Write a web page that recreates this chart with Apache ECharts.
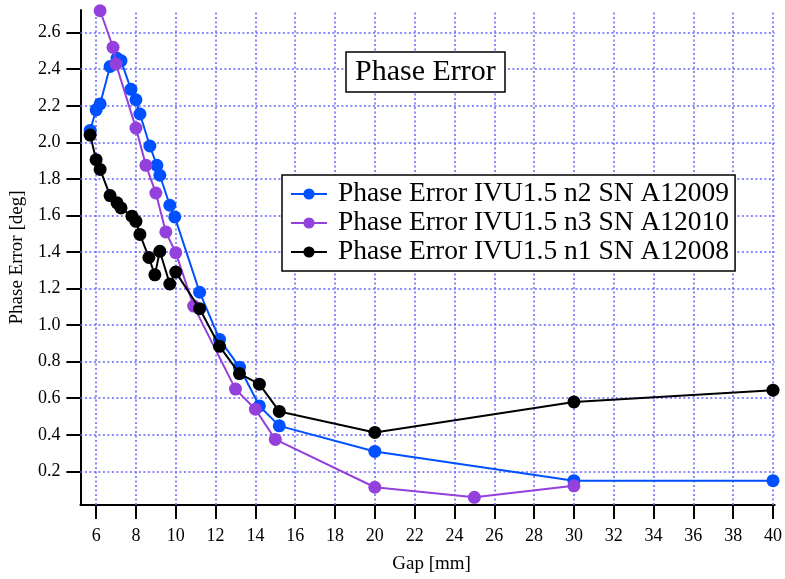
<!DOCTYPE html>
<html>
<head>
<meta charset="utf-8">
<script src="https://cdn.jsdelivr.net/npm/echarts@6/dist/echarts.min.js"></script>
<style>html,body{margin:0;padding:0;background:#fff;}#c{width:785px;height:579px;}</style>
</head>
<body>
<div id="c"></div>
<script>
const gapN2 = [5.7, 6.0, 6.2, 6.7, 7.05, 7.25, 7.75, 8.0, 8.2, 8.7, 9.05, 9.2, 9.7, 9.95, 11.2, 12.2, 13.2, 14.2, 15.2, 20, 30, 40];
const peN2  = [2.065, 2.178, 2.21, 2.415, 2.46, 2.447, 2.29, 2.233, 2.155, 1.98, 1.874, 1.82, 1.656, 1.592, 1.18, 0.922, 0.77, 0.558, 0.449, 0.309, 0.149, 0.149];
const gapN3 = [6.2, 6.85, 7.0, 8.0, 8.5, 9.0, 9.5, 10.0, 10.9, 13.0, 14.0, 15.0, 20, 25, 30];
const peN3  = [2.72, 2.52, 2.428, 2.078, 1.874, 1.723, 1.51, 1.396, 1.104, 0.65, 0.54, 0.375, 0.113, 0.058, 0.121];
const gapN1 = [5.7, 6.0, 6.2, 6.7, 7.05, 7.25, 7.8, 8.0, 8.2, 8.65, 8.95, 9.2, 9.7, 10.0, 11.2, 12.2, 13.2, 14.2, 15.2, 20, 30, 40];
const peN1  = [2.04, 1.905, 1.852, 1.709, 1.669, 1.641, 1.596, 1.568, 1.496, 1.37, 1.275, 1.404, 1.225, 1.29, 1.09, 0.884, 0.735, 0.677, 0.528, 0.413, 0.58, 0.644];
const xTicks = [6, 8, 10, 12, 14, 16, 18, 20, 22, 24, 26, 28, 30, 32, 34, 36, 38, 40];
const yTicks = [0.2, 0.4, 0.6, 0.8, 1.0, 1.2, 1.4, 1.6, 1.8, 2.0, 2.2, 2.4, 2.6];
const names = ['Phase Error IVU1.5 n2 SN A12009', 'Phase Error IVU1.5 n3 SN A12010', 'Phase Error IVU1.5 n1 SN A12008'];
const colors = ['#0050ff', '#9340dd', '#000000'];

const zip = (a, b) => a.map((v, i) => [v, b[i]]);
const FONT = "'Liberation Serif', 'Times New Roman', 'DejaVu Serif', serif";
const gridStyle = { color: '#6464ff', width: 1.5, type: [2, 2.5] };

const chart = echarts.init(document.getElementById('c'), null, { renderer: 'canvas' });
const mk = (i, gx, gy) => ({
  name: names[i], type: 'line', data: zip(gx, gy),
  symbol: 'circle', symbolSize: 13, showSymbol: true,
  itemStyle: { color: colors[i] },
  lineStyle: { color: colors[i], width: 2 },
  emphasis: { disabled: true }, animation: false, z: 3 + i
});
const gridSeries = {
  type: 'line', data: [], z: 1, silent: true, animation: false,
  markLine: {
    z: 1, silent: true, symbol: ['none', 'none'], label: { show: false }, animation: false,
    lineStyle: gridStyle, emphasis: { disabled: true },
    data: xTicks.map(v => ({ xAxis: v })).concat(yTicks.map(v => ({ yAxis: v })))
  }
};
chart.setOption({
  animation: false,
  backgroundColor: '#fff',
  textStyle: { fontFamily: FONT },
  title: {
    text: 'Phase Error', left: 346, top: 52, z: 10,
    padding: [5, 9, 5, 9], borderColor: '#000', borderWidth: 1.5, backgroundColor: '#fff',
    textStyle: { fontFamily: FONT, fontSize: 30, fontWeight: 'normal', color: '#000' }
  },
  legend: {
    left: 282, top: 175, orient: 'vertical', z: 10,
    padding: [5, 6, 5, 8], itemGap: 1, itemWidth: 36, itemHeight: 14,
    borderColor: '#000', borderWidth: 1.5, backgroundColor: '#fff',
    data: names,
    textStyle: { fontFamily: FONT, fontSize: 27.5, color: '#000', padding: [0, 0, 0, 6], lineHeight: 27 }
  },
  grid: { left: 80, right: 10, top: 10, bottom: 73, containLabel: false },
  xAxis: {
    type: 'value', min: 5.21, max: 40.085,
    name: 'Gap [mm]', nameLocation: 'middle', nameGap: 50,
    nameTextStyle: { fontFamily: FONT, fontSize: 19, color: '#000', padding: [0, 0, 0, 8] },
    axisLine: { show: true, lineStyle: { color: '#000', width: 2 } },
    axisTick: { show: true, length: 14, inside: false, lineStyle: { color: '#000', width: 2 }, customValues: xTicks },
    axisLabel: { fontFamily: FONT, fontSize: 18, color: '#000', margin: 22, customValues: xTicks, formatter: v => String(Math.round(v)) },
    splitLine: { show: false }
  },
  yAxis: {
    type: 'value', min: 0.016, max: 2.724,
    name: 'Phase Error [deg]', nameLocation: 'middle', nameGap: 34,
    nameTextStyle: { fontFamily: FONT, fontSize: 19, color: '#000' },
    axisLine: { show: true, lineStyle: { color: '#000', width: 2 } },
    axisTick: { show: true, length: 14, inside: false, lineStyle: { color: '#000', width: 2 }, customValues: yTicks },
    axisLabel: { fontFamily: FONT, fontSize: 18, color: '#000', margin: 20, customValues: yTicks, formatter: v => v.toFixed(1) },
    splitLine: { show: false }
  },
  series: [gridSeries, mk(0, gapN2, peN2), mk(1, gapN3, peN3), mk(2, gapN1, peN1)]
});
</script>
</body>
</html>
